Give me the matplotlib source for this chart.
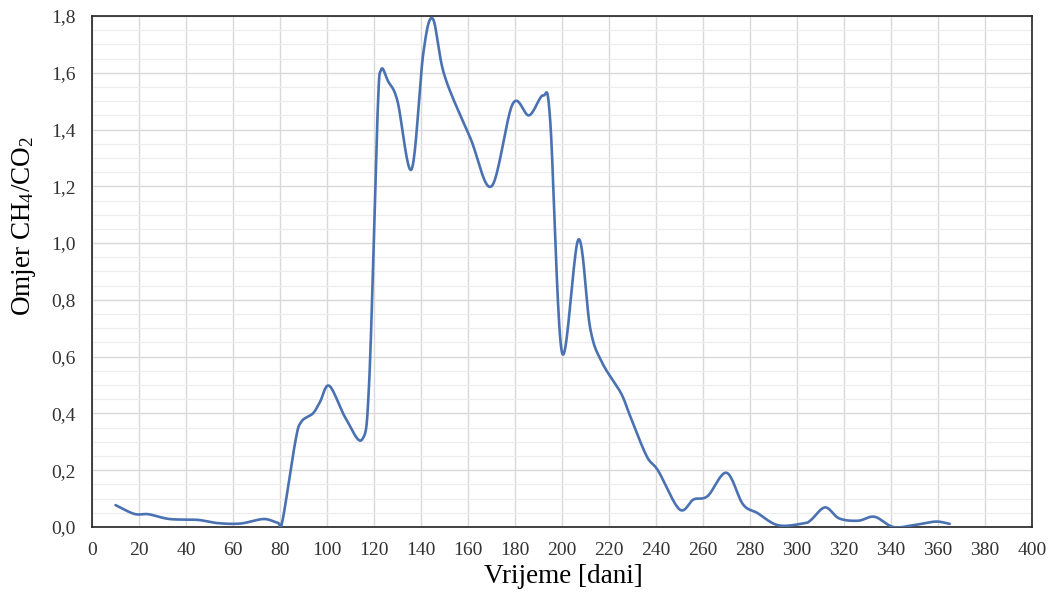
import numpy as np
import matplotlib
matplotlib.use('Agg')
import matplotlib.pyplot as plt
import matplotlib.ticker as ticker

plt.rcParams['font.family'] = ['Liberation Serif', 'DejaVu Serif']
plt.rcParams['mathtext.fontset'] = 'custom'
plt.rcParams['mathtext.rm'] = 'Liberation Serif'
plt.rcParams['mathtext.it'] = 'Liberation Serif:italic'

# vrijeme [dani] i omjer CH4/CO2 (očitano s grafa)
dani = [10, 18, 24, 33, 45, 53, 63, 73, 79, 81, 86.5, 89, 94, 97, 101, 108,
        115, 118, 121.5, 123, 126, 130, 136, 141, 145, 150, 161, 170, 179,
        186, 192, 195, 200, 207, 212, 217, 225, 229, 236, 241, 250, 256, 262,
        270, 277, 283, 292, 303, 306, 312, 318, 326, 333, 341, 350, 359, 365]
omjer = [0.077, 0.046, 0.045, 0.028, 0.025, 0.014, 0.012, 0.028, 0.015, 0.02,
         0.30, 0.37, 0.40, 0.44, 0.497, 0.382, 0.309, 0.52, 1.45, 1.61, 1.57,
         1.50, 1.26, 1.67, 1.79, 1.59, 1.37, 1.20, 1.49, 1.45, 1.52, 1.43,
         0.614, 1.013, 0.70, 0.58, 0.473, 0.391, 0.25, 0.197, 0.062, 0.097,
         0.109, 0.191, 0.08, 0.05, 0.006, 0.013, 0.025, 0.069, 0.03, 0.022,
         0.036, 0.0, 0.007, 0.019, 0.011]


def catmull_rom(x, y, n=20):
    # zaglađena linija kao u Excelu
    x = np.asarray(x, float)
    y = np.asarray(y, float)
    px = np.concatenate([[2 * x[0] - x[1]], x, [2 * x[-1] - x[-2]]])
    py = np.concatenate([[2 * y[0] - y[1]], y, [2 * y[-1] - y[-2]]])
    t = np.linspace(0, 1, n, endpoint=False)
    xs, ys = [], []
    for i in range(1, len(px) - 2):
        for p, out in ((px, xs), (py, ys)):
            p0, p1, p2, p3 = p[i - 1], p[i], p[i + 1], p[i + 2]
            out.extend(0.5 * (2 * p1 + (-p0 + p2) * t
                              + (2 * p0 - 5 * p1 + 4 * p2 - p3) * t ** 2
                              + (-p0 + 3 * p1 - 3 * p2 + p3) * t ** 3))
    xs.append(x[-1])
    ys.append(y[-1])
    return np.array(xs), np.array(ys)


fig = plt.figure(figsize=(10.48, 5.96), dpi=100)
ax = fig.add_axes([0.0878, 0.1158, 0.8969, 0.8574])

sx, sy = catmull_rom(dani, omjer)
ax.plot(sx, sy, color='#4a72b2', linewidth=1.9, solid_capstyle='round', zorder=3)

ax.set_xlim(0, 400)
ax.set_ylim(0, 1.8)
ax.xaxis.set_major_locator(ticker.MultipleLocator(20))
ax.yaxis.set_major_locator(ticker.MultipleLocator(0.2))
ax.yaxis.set_minor_locator(ticker.MultipleLocator(0.05))
ax.yaxis.set_major_formatter(ticker.FuncFormatter(lambda v, p: '{:.1f}'.format(v).replace('.', ',')))

ax.grid(which='major', color='#d9d9d9', linewidth=1.0, zorder=0)
ax.grid(which='minor', axis='y', color='#ececec', linewidth=0.8, zorder=0)
ax.set_axisbelow(True)

ax.tick_params(which='both', length=0, labelsize=14, colors='#333333')
ax.tick_params(axis='x', pad=10.5)
ax.tick_params(axis='y', pad=12)
for s in ax.spines.values():
    s.set_color('#222222')
    s.set_linewidth(1.2)

ax.set_xlabel('Vrijeme [dani]', fontsize=19.5)
ax.set_ylabel('Omjer CH$_4$/CO$_2$', fontsize=19.5)
ax.xaxis.set_label_coords(0.501, -0.072)
ax.yaxis.set_label_coords(-0.057, 0.59)

fig.savefig('out.png', dpi=100)
